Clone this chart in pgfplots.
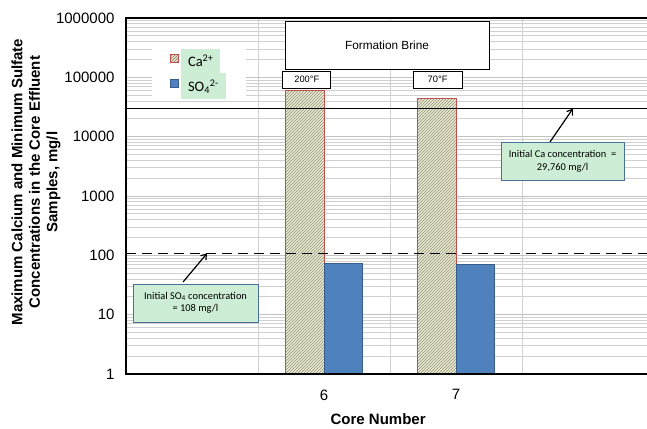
\documentclass[border=0pt]{standalone}
\usepackage{pgfplots}
\pgfplotsset{compat=1.18}
\usepackage{fontspec}
\setmainfont{Liberation Sans}
\newfontfamily\calib{Carlito}
\usetikzlibrary{patterns,arrows.meta}

\definecolor{caedge}{RGB}{192,80,77}
\definecolor{cabg}{RGB}{232,232,212}
\definecolor{cahatch}{RGB}{150,150,118}
\definecolor{sofill}{RGB}{79,129,189}
\definecolor{soedge}{RGB}{56,93,138}
\definecolor{notefill}{RGB}{205,238,212}
\definecolor{noteedge}{RGB}{72,112,152}
\definecolor{gridmaj}{RGB}{195,195,195}
\definecolor{gridmin}{RGB}{208,208,208}

% green label box used for the legend entries
\newcommand{\legtext}[1]{{\setlength{\fboxsep}{0pt}\colorbox{notefill}{\hspace{7pt}\rule[-8pt]{0pt}{26pt}#1\hspace{7pt}}}}

\begin{document}
\begin{tikzpicture}
\useasboundingbox (-126pt,-54pt) rectangle (521pt,374pt);
\begin{axis}[
  at={(0pt,0pt)}, anchor=south west,
  scale only axis, width=521pt, height=356pt,
  clip=false,
  ymode=log, ymin=1, ymax=1000000,
  xmin=-0.5, xmax=3.447,
  ybar=0pt, bar width=0.288,
  xtick={1,2}, xticklabels={6,7},
  minor xtick={0.5,1.5,2.5,3.5},
  ytick={1,10,100,1000,10000,100000,1000000},
  yticklabels={1,10,100,1000,10000,100000,1000000},
  ymajorgrids, yminorgrids, xminorgrids,
  major grid style={gridmaj, line width=0.8pt},
  minor grid style={gridmin, line width=0.8pt},
  major tick length=0pt, minor tick length=0pt,
  axis line style={draw=none},
  ticklabel style={font=\fontsize{15}{15}\selectfont},
  xticklabel style={yshift=-12pt},
  yticklabel style={xshift=-8pt},
  every axis y label/.style={at={(rel axis cs:0,0.539)}, xshift=-90pt, rotate=90, anchor=center,
    align=center, font=\bfseries\fontsize{15}{17.5}\selectfont},
  every axis x label/.style={at={(rel axis cs:0.484,0)}, yshift=-45pt, anchor=center,
    font=\bfseries\fontsize{15}{15}\selectfont},
  ylabel={Maximum Calcium and Minimum Sulfate\\Concentrations in the Core Effluent\\Samples, mg/l},
  xlabel={Core Number},
  legend style={at={(rel axis cs:0.05,0.925)}, anchor=north west, draw=none, fill=white,
    font=\calib\fontsize{14.5}{14.5}\selectfont, inner xsep=18pt, inner ysep=2pt, row sep=1pt},
  legend cell align=left,
]
\addplot[draw=caedge, line width=1pt, fill=cabg,
  postaction={pattern=north east lines, pattern color=cahatch},
  legend image code/.code={\draw[draw=caedge, line width=0.8pt, fill=cabg,
    postaction={pattern=north east lines, pattern color=cahatch}] (0pt,-4pt) rectangle (8pt,4pt);}]
  coordinates {(1,60000) (2,44600)};
\addlegendentry{\legtext{Ca\textsuperscript{2+}}}
\addplot[draw=soedge, line width=1pt, fill=sofill,
  legend image code/.code={\draw[draw=soedge, line width=0.8pt, fill=sofill] (0pt,-4pt) rectangle (8pt,4pt);}]
  coordinates {(1,74) (2,69)};
\addlegendentry{\legtext{SO\textsubscript{4}\textsuperscript{2-}}}

% initial concentrations of the formation brine
\addplot[sharp plot, forget plot, black, line width=1.4pt] coordinates {(-0.5,29760) (3.5,29760)};
\addplot[sharp plot, forget plot, black, line width=1.6pt, dash pattern=on 10pt off 6pt] coordinates {(-0.5,108) (3.5,108)};

% frame (left, top, bottom)
\draw[line width=1.8pt] (rel axis cs:1,1) -- (rel axis cs:0,1) -- (rel axis cs:0,0) -- (rel axis cs:1,0);

\node[draw=black, fill=white, line width=0.6pt, minimum width=204pt, minimum height=48pt, inner sep=0pt,
  font=\fontsize{11.8}{12}\selectfont] at (rel axis cs:0.501,0.924) {Formation Brine};
\node[draw=black, fill=white, line width=0.6pt, minimum width=48pt, minimum height=17pt, inner sep=0pt,
  font=\fontsize{9.3}{9.3}\selectfont] at (rel axis cs:0.347,0.827) {200°F};
\node[draw=black, fill=white, line width=0.6pt, minimum width=49pt, minimum height=17pt, inner sep=0pt,
  font=\fontsize{9.3}{9.3}\selectfont] at (rel axis cs:0.598,0.827) {70°F};

\draw[-{Straight Barb[length=5pt,width=7pt]}, line width=1.2pt] (axis cs:2.712,8130) -- (axis cs:2.886,29760);
\node[draw=noteedge, fill=notefill, line width=1pt, minimum width=123pt, minimum height=38pt, inner sep=0pt,
  align=center, font=\calib\fontsize{10.4}{12.5}\selectfont] at (rel axis cs:0.838,0.598)
  {Initial Ca concentration \ =\\29,760 mg/l};

\draw[-{Straight Barb[length=5pt,width=7pt]}, line width=1.2pt] (axis cs:-0.068,35.5) -- (axis cs:0.114,108);
\node[draw=noteedge, fill=notefill, line width=1pt, minimum width=125pt, minimum height=38pt, inner sep=0pt,
  align=center, font=\calib\fontsize{10.4}{12.5}\selectfont] at (rel axis cs:0.1334,0.1994)
  {Initial SO\textsubscript{4} concentration\\= 108 mg/l};
\end{axis}
\end{tikzpicture}
\end{document}
